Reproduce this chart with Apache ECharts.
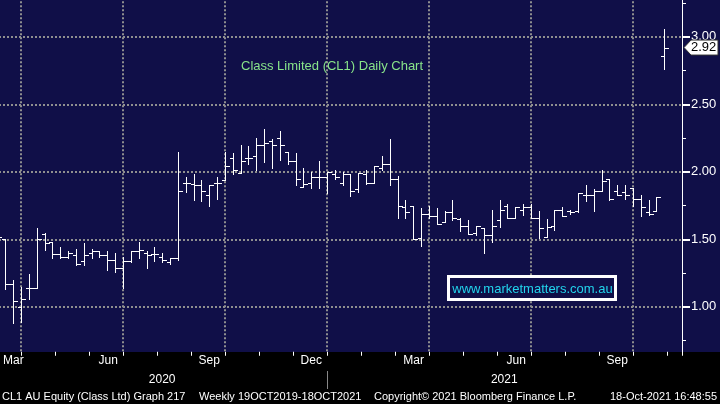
<!DOCTYPE html>
<html><head><meta charset="utf-8">
<script src="https://cdn.jsdelivr.net/npm/echarts@6/dist/echarts.min.js"></script>
<style>html,body{margin:0;padding:0;background:#000;overflow:hidden}#c{width:720px;height:404px}</style>
</head><body><div id="c"></div>
<script>
// Weekly OHLC bars (Class Ltd, CL1), left to right
const opens  = [1.50,1.50,1.17,1.00,1.14,1.14,1.54,1.48,1.39,1.37,1.38,1.34,1.40,1.41,1.38,1.35,1.29,1.34,1.41,1.40,1.39,1.37,1.33,1.36,
  1.92,1.91,1.90,1.83,1.92,1.94,2.10,1.99,2.10,2.12,2.20,2.23,2.25,2.15,2.08,1.89,1.92,1.96,1.96,1.98,1.92,1.98,1.87,1.98,1.92,2.03,
  2.06,1.95,1.74,1.75,1.51,1.69,1.67,1.63,1.70,1.65,1.60,1.55,1.58,1.53,1.64,1.75,1.66,1.72,1.74,1.66,1.52,1.60,1.72,1.71,1.71,1.83,
  1.83,1.86,1.95,1.86,1.85,1.88,1.80,1.70,1.71,2.86];
const highs  = [1.56,1.50,1.20,1.15,1.24,1.58,1.55,1.48,1.44,1.41,1.43,1.47,1.43,1.41,1.41,1.40,1.37,1.41,1.48,1.41,1.44,1.40,1.36,2.15,
  1.96,1.98,1.94,1.90,1.96,2.15,2.14,2.20,2.19,2.25,2.32,2.24,2.30,2.15,2.14,2.03,2.00,2.08,2.00,2.01,2.00,1.98,1.99,2.01,2.04,2.12,
  2.24,1.97,1.79,1.75,1.73,1.75,1.73,1.71,1.79,1.66,1.64,1.60,1.58,1.72,1.79,1.76,1.74,1.76,1.76,1.71,1.65,1.72,1.74,1.72,1.84,1.90,
  1.87,2.01,1.95,1.90,1.90,1.88,1.83,1.79,1.81,3.06];
const lows   = [1.47,1.13,0.88,0.89,1.06,1.14,1.42,1.36,1.36,1.36,1.31,1.31,1.36,1.37,1.27,1.26,1.14,1.33,1.36,1.29,1.34,1.33,1.32,1.35,
  1.85,1.79,1.78,1.75,1.80,1.94,1.98,1.99,2.06,2.01,2.07,2.03,2.09,2.06,1.90,1.89,1.88,1.88,1.84,1.95,1.90,1.82,1.85,1.91,1.92,2.01,
  1.90,1.66,1.66,1.50,1.45,1.66,1.61,1.63,1.64,1.56,1.54,1.53,1.40,1.48,1.59,1.66,1.66,1.68,1.66,1.51,1.52,1.57,1.67,1.69,1.70,1.78,
  1.71,1.86,1.79,1.83,1.80,1.75,1.67,1.68,1.71,2.76];
const closes = [1.52,1.17,1.04,1.06,1.14,1.50,1.47,1.39,1.37,1.40,1.32,1.38,1.41,1.38,1.35,1.29,1.34,1.41,1.42,1.38,1.39,1.35,1.36,1.86,
  1.92,1.90,1.86,1.90,1.92,2.04,2.01,2.08,2.10,2.20,2.21,2.20,2.20,2.08,1.95,1.91,1.96,1.96,2.00,1.96,1.98,1.86,1.99,1.92,2.04,2.06,
  1.95,1.75,1.70,1.50,1.69,1.67,1.61,1.70,1.66,1.60,1.54,1.60,1.53,1.60,1.72,1.66,1.74,1.74,1.66,1.58,1.59,1.72,1.67,1.70,1.84,1.83,
  1.86,1.93,1.80,1.83,1.83,1.80,1.74,1.69,1.81,2.92];

// x axis: one unit per weekly bar; quarter gridlines every 13 bars
const weekOffset = 10;
const monthTicks = {13:'Mar',26:'Jun',39:'Sep',52:'Dec',65:'Mar',78:'Jun',91:'Sep'};
const yearLabels = ['2020','2021'];
const yearCenters = [31, 74.6];
const yearDivider = 52;
const xMin = 0, xMax = 97.26;
const yMin = 0.5, yMax = 3.5;

const chartTitle = 'Class Limited (CL1) Daily Chart';
const watermark = 'www.marketmatters.com.au';
const footer = ['CL1 AU Equity (Class Ltd) Graph 217','Weekly 19OCT2019-18OCT2021','Copyright\u00a9 2021 Bloomberg Finance L.P.','18-Oct-2021 16:48:55'];

const NAVY = '#100f48';
const GRID = '#8f8f8f';
const FONT = '"Liberation Sans", Arial, sans-serif';

const chart = echarts.init(document.getElementById('c'), null, {renderer:'canvas'});
const data = opens.map((o,i)=>[i+weekOffset, o, highs[i], lows[i], closes[i]]);
const firstMonth = 13; // the first month label is pushed inside the frame, as in the original

const option = {
  backgroundColor: NAVY,
  animation: false,
  grid: {left: -81, right: 38, top: -30.75, bottom: 29.75, containLabel: false, outerBoundsMode: 'none'},
  xAxis: [{
    type:'value', min:xMin, max:xMax, interval:13, position:'top', z:1,
    axisLine:{show:false}, axisTick:{show:false}, axisLabel:{show:false},
    splitLine:{show:true, showMinLine:false, showMaxLine:false, lineStyle:{color:GRID, width:2, type:[2,2]}}
  },{
    type:'value', min:xMin, max:xMax, interval:13, position:'bottom', offset:-22.5, z:10,
    axisLine:{show:false, onZero:false},
    axisTick:{show:true, length:4, lineStyle:{color:'#fff', width:1}},
    minorTick:{show:true, splitNumber:3, length:4, lineStyle:{color:'#fff', width:1}},
    splitLine:{show:false},
    axisLabel:{show:true, color:'#fff', fontSize:12, fontFamily:FONT, margin:3, align:'right', padding:[0,5,0,0],
      formatter: v => { const k = Math.round(v*100)/100; return k === firstMonth ? '' : (monthTicks[k] || ''); }}
  }],
  yAxis: [{
    type:'value', position:'right', min:yMin, max:yMax, interval:0.5, z:1,
    axisLine:{show:true, onZero:false, lineStyle:{color:'#fff', width:1}},
    axisTick:{show:true, length:8, lineStyle:{color:'#fff', width:2}},
    minorTick:{show:true, splitNumber:2, length:4, lineStyle:{color:'#fff', width:1}},
    axisLabel:{color:'#fff', fontSize:13, fontFamily:FONT, margin:9, formatter: v => v.toFixed(2)},
    splitLine:{show:true, lineStyle:{color:GRID, width:2, type:[2,2]}}
  }],
  series: [{
    type:'custom', xAxisIndex:0, yAxisIndex:0, z:2,
    data: data,
    encode:{x:0, y:[1,2,3,4]},
    renderItem: function(params, api){
      const x = api.value(0);
      const pH = api.coord([x, api.value(2)]);
      const pL = api.coord([x, api.value(3)]);
      const pO = api.coord([x, api.value(1)]);
      const pC = api.coord([x, api.value(4)]);
      const w = api.size([1,0])[0]*0.42;
      const cx = Math.round(pH[0]) + 0.5;
      const snap = v => Math.round(v) + 0.5;
      const st = {stroke:'#ffffff', lineWidth:1};
      return {type:'group', children:[
        {type:'line', shape:{x1:cx, y1:Math.round(pH[1]), x2:cx, y2:Math.round(pL[1])+1}, style:st},
        {type:'line', shape:{x1:Math.round(cx-w), y1:snap(pO[1]), x2:cx, y2:snap(pO[1])}, style:st},
        {type:'line', shape:{x1:cx, y1:snap(pC[1]), x2:Math.round(cx+w)+1, y2:snap(pC[1])}, style:st}
      ]};
    }
  }]
};
chart.setOption(option);

const lastClose = closes[closes.length-1];
const fy = chart.convertToPixel({yAxisIndex:0}, lastClose);
const yearPx = yearCenters.map(v => chart.convertToPixel({xAxisIndex:0}, v));
const divPx = Math.round(chart.convertToPixel({xAxisIndex:0}, yearDivider)) + 0.5;

chart.setOption({graphic:[
  {type:'rect', z:5, silent:true, shape:{x:0, y:352, width:720, height:52}, style:{fill:'#000'}},
  {type:'text', z:12, x:3, y:361, style:{text:monthTicks[firstMonth], fill:'#fff', font:'12px '+FONT, verticalAlign:'middle'}},
  {type:'text', z:12, left:241, top:60, style:{text:chartTitle, fill:'#88e48a', font:'13px '+FONT}},
  {type:'rect', z:12, shape:{x:448.5, y:276.5, width:167, height:23}, style:{fill:NAVY, stroke:'#fff', lineWidth:3}},
  {type:'text', z:13, x:532.5, y:289, style:{text:watermark, fill:'#22d4ec', font:'13px '+FONT, align:'center', verticalAlign:'middle'}},
  {type:'text', z:12, x:yearPx[0], y:380, style:{text:yearLabels[0], fill:'#fff', font:'12px '+FONT, align:'center', verticalAlign:'middle'}},
  {type:'text', z:12, x:yearPx[1], y:380, style:{text:yearLabels[1], fill:'#fff', font:'12px '+FONT, align:'center', verticalAlign:'middle'}},
  {type:'line', z:12, shape:{x1:divPx, y1:371, x2:divPx, y2:389}, style:{stroke:'#888', lineWidth:1}},
  {type:'text', z:12, x:2, y:397, style:{text:footer[0], fill:'#fff', font:'11px '+FONT, verticalAlign:'middle'}},
  {type:'text', z:12, x:199, y:397, style:{text:footer[1], fill:'#fff', font:'11px '+FONT, verticalAlign:'middle'}},
  {type:'text', z:12, x:374, y:397, style:{text:footer[2], fill:'#fff', font:'11px '+FONT, verticalAlign:'middle'}},
  {type:'text', z:12, x:717, y:397, style:{text:footer[3], fill:'#fff', font:'11px '+FONT, align:'right', verticalAlign:'middle'}},
  {type:'polygon', z:20, shape:{points:[[684,fy],[691,fy-7.5],[718,fy-7.5],[718,fy+7.5],[691,fy+7.5]]}, style:{fill:'#fff', stroke:'#333', lineWidth:1}},
  {type:'text', z:21, x:691, y:fy, style:{text:lastClose.toFixed(2), fill:'#000', font:'13px '+FONT, verticalAlign:'middle'}}
]});
</script></body></html>
